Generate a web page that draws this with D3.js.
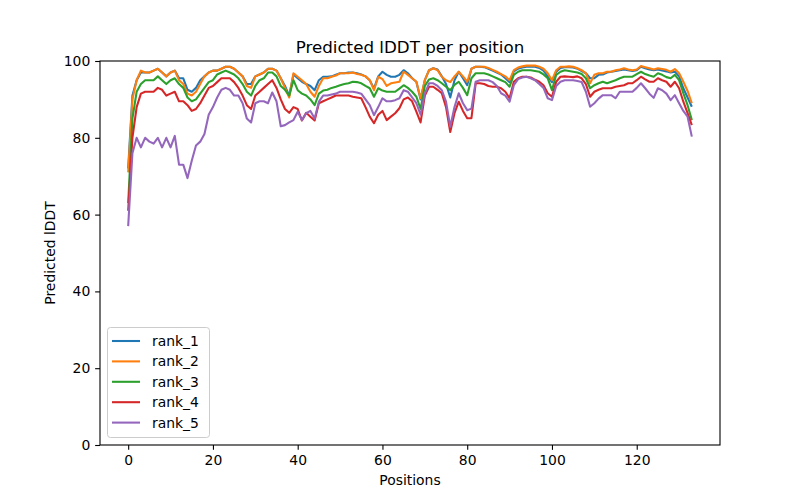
<!DOCTYPE html>
<html><head><meta charset="utf-8">
<script src="https://cdn.jsdelivr.net/npm/d3@7"></script>
<style>body{margin:0;background:#fff}svg{display:block}text{font-family:"DejaVu Sans",sans-serif}</style>
</head><body><svg id="c" width="800" height="500"></svg>
<script>
const seriesNames = ["rank_1","rank_2","rank_3","rank_4","rank_5"];
const colors = ["#1f77b4","#ff7f0e","#2ca02c","#d62728","#9467bd"];
const rank_1 = [72,91,95,97,97,97,97.5,98,97,96,97,97.5,95.5,95.5,92.5,92,93,95,96,97,97.5,97.5,98,98.5,98.5,98,97,96,94,94,96,96.5,97,98,98,97.5,
  95.5,93.5,91,96.5,95.5,94.6,94,93.5,92.4,95,95.9,95.9,96,96.4,96.8,96.8,97,
  97,96.8,96.5,96,95,92.8,96,97.2,96.4,95.9,95.9,96.4,97.6,96.8,95.5,94.6,90,95,
  97.6,98.1,97.8,96,94,90.5,95,97.2,95.5,93.7,98,98.5,98.5,98.4,98,97.5,97,
  96.5,95.5,94.5,97.3,98,98.3,98.5,98.5,98.5,98.2,97.5,96,94.5,97.2,98.2,98.4,98.4,98.3,
  98,97.4,96.8,95.5,95.5,96.4,96.5,97,97.2,97.4,97.6,97.8,97.6,97.4,97.6,
  98.5,98.1,97.8,97.6,97.8,97.5,97.3,97,97.2,96,92.9,90.5,88.1];
const rank_2 = [71,90,95,97.5,97,97,97.5,98,97,96,97,97.5,95,94,91.5,91,92,94,96,97,97.5,97.5,98,98.5,98.5,98,97,96,93.5,93,96,96.5,97,98,98,97.5,
  95.5,93,90.5,96.8,95.9,95,94,92,90.7,93.5,95.5,95.5,95.9,96.2,96.8,96.8,96.8,
  97,96.6,96.4,96,95,92.4,95.9,95.3,93.5,94.2,94.4,94.6,97.2,96.4,95.5,94.6,90.3,95,
  97.6,98.1,97.6,95.9,95,94.5,96,97.2,96,94.6,98,98.5,98.5,98.5,98.2,97.7,97.2,
  96.6,96,95,97.6,98.3,98.6,98.8,98.8,98.8,98.5,98,96.8,95,97.6,98.5,98.5,98.6,98.5,
  98.1,97.6,96.8,94.2,96.4,96.8,96.8,97.2,97.2,97.6,97.8,98.1,97.8,97.6,97.8,
  98.7,98.4,98.1,97.8,98.1,97.9,97.7,97.2,97.9,96.8,94.6,92.2,89];
const rank_3 = [63,85,92,94,95,95,95,96,95,94,95,95.5,94,93,90.5,89.5,90,91.5,93,94.5,95,96.5,97,97.5,97,96.5,95.5,94,92,91,93.5,95,95.5,97,97,96,
  93.5,92.5,91,95,92.4,91.5,91,90,88.5,91.5,92.3,92.5,93,93.3,93.7,94,94.2,
  94.6,94.5,94.2,93.5,92.9,90.7,92.9,92.3,92,92,92,92.8,93.7,93,92,90.7,87.5,93.5,
  95.2,95.5,95,94.2,93.3,92.4,93.8,94.6,93,91.1,95.5,96.8,96.8,96.8,96.5,96,95.5,
  95,94.5,93.3,96.4,97.2,97.6,97.6,97.6,97.4,97.2,96.5,95.5,92.4,96.4,97.2,97.6,97.4,97.2,
  97,96.6,95.5,92.9,93.7,94.2,94.6,94.2,94.6,95,95.5,95.9,95.9,95.9,96.6,
  97.2,96.6,96.2,95.9,96.8,96.4,95.8,95.5,96.4,95,91.6,88.5,84.6];
const rank_4 = [61,80,88,91.5,92,92,92,93,92.5,91,91.5,92,89.5,89.5,88.5,87,87.5,89,91,93,93.5,94.5,95.5,95.5,95.5,94.5,93,91,88.5,87.5,91,92,93,94,95,93,
  90,87.5,86.5,88,87.5,84.5,86.5,85.5,84.5,89,89.5,90,90.5,91,91,91,91,
  90.7,90.5,90.3,88,85.5,83.8,86,87,84.6,85.5,86.4,87.7,90,90.5,89.5,86.8,84,91,
  93.3,93.3,92.5,91.6,88,81.5,86.4,89.4,87,85.1,85.1,94.2,94.2,94,93.5,93.3,93.3,
  92.9,92,90.3,94.6,95.5,95.9,95.9,95.7,95.1,94.6,93.7,91.6,90.7,94.6,95.9,96,95.9,95.8,
  96,95.5,94,90.7,92,92.5,92.9,92.9,92.9,93.3,93.5,93.7,94.2,94.2,95,
  95.9,95.2,94.6,94.6,95.5,95,94.6,93.3,94.6,92.9,89.4,86.4,83.3];
const rank_5 = [57,76,80,77.5,80,79,78.5,80,77.5,80,77.5,80.5,73,73,69.5,74,78,79,81,86,88,90.5,92.5,93,92.5,91,91,89,85,84,89,89.5,89.5,89,91.8,89.5,
  83,83.3,84,84.6,86.8,84.6,86.4,87,85,89.4,91,91,91.3,91.5,92,92,92,
  92,91.8,91.5,90,88.5,85.9,88,90.3,89.5,89.5,89.8,90.3,92.4,92,90.5,89,86,91.5,
  94.2,94.2,93.5,92.4,89.4,82.9,88,91.6,89,87.2,87.6,94.6,95,95,95,94.5,93.5,
  91.6,91,89.4,93.7,95.3,95.7,95.9,95.5,95,94,93,90.3,89.8,93.5,94.6,95,95,95,
  94.8,94.5,92,88.1,89,90.2,91.1,91.1,91.1,90.3,92,92,92,92,93,
  94.2,92.9,91.5,90.4,92.9,92.4,91.5,89.8,91.1,89,87,85.5,80.3];
const allSeries = [rank_1, rank_2, rank_3, rank_4, rank_5];
const xTicks = [0,20,40,60,80,100,120];
const yTicks = [0,20,40,60,80,100];

const svg = d3.select("#c");
const L=100,R=720,T=61,B=445;
const n = rank_1.length;
const xmin = 0, xmax = n-1, pad = (xmax-xmin)*0.05;
const x = d3.scaleLinear().domain([xmin-pad, xmax+pad]).range([L,R]);
const y = d3.scaleLinear().domain([0,100]).range([B,T]);

const line = d3.line().x((d,i)=>x(i)).y(d=>y(d));
const g = svg.append("g");
g.append("clipPath").attr("id","clip").append("rect").attr("x",L).attr("y",T).attr("width",R-L).attr("height",B-T);
allSeries.forEach((s,k)=>{
  g.append("path").datum(s).attr("d",line).attr("fill","none").attr("stroke",colors[k])
   .attr("stroke-width",2.08).attr("stroke-linejoin","round").attr("stroke-linecap","butt")
   .attr("clip-path","url(#clip)");
});

const xa = svg.append("g").attr("transform",`translate(0,${B})`)
  .call(d3.axisBottom(x).tickValues(xTicks).tickSize(4.86).tickPadding(4.9).tickFormat(d3.format("d")));
const ya = svg.append("g").attr("transform",`translate(${L},0)`)
  .call(d3.axisLeft(y).tickValues(yTicks).tickSize(4.86).tickPadding(4.9).tickFormat(d3.format("d")));
[xa,ya].forEach(a=>{a.select(".domain").remove();a.selectAll("text").attr("font-size","13.9px").attr("fill","#000").attr("font-family","DejaVu Sans");a.selectAll("line").attr("stroke","#000").attr("stroke-width",1.1);});

svg.append("rect").attr("x",L).attr("y",T).attr("width",R-L).attr("height",B-T)
  .attr("fill","none").attr("stroke","#000").attr("stroke-width",1.1);

svg.append("text").attr("x",(L+R)/2).attr("y",T-8).attr("text-anchor","middle").attr("font-size","16.7px").text("Predicted lDDT per position");
svg.append("text").attr("x",(L+R)/2).attr("y",485).attr("text-anchor","middle").attr("font-size","13.9px").text("Positions");
svg.append("text").attr("transform",`translate(55,${(T+B)/2}) rotate(-90)`).attr("text-anchor","middle").attr("font-size","13.9px").text("Predicted lDDT");

// legend
const lg = svg.append("g");
lg.append("rect").attr("x",107.5).attr("y",327.5).attr("width",102).attr("height",110).attr("rx",3)
  .attr("fill","#fff").attr("fill-opacity",0.8).attr("stroke","#ccc").attr("stroke-width",1);
seriesNames.forEach((nm,k)=>{
  const yy = 341 + k*20.4;
  lg.append("line").attr("x1",112).attr("x2",140).attr("y1",yy).attr("y2",yy).attr("stroke",colors[k]).attr("stroke-width",2.08);
  lg.append("text").attr("x",152).attr("y",yy+5).attr("font-size","13.9px").text(nm);
});
</script></body></html>
